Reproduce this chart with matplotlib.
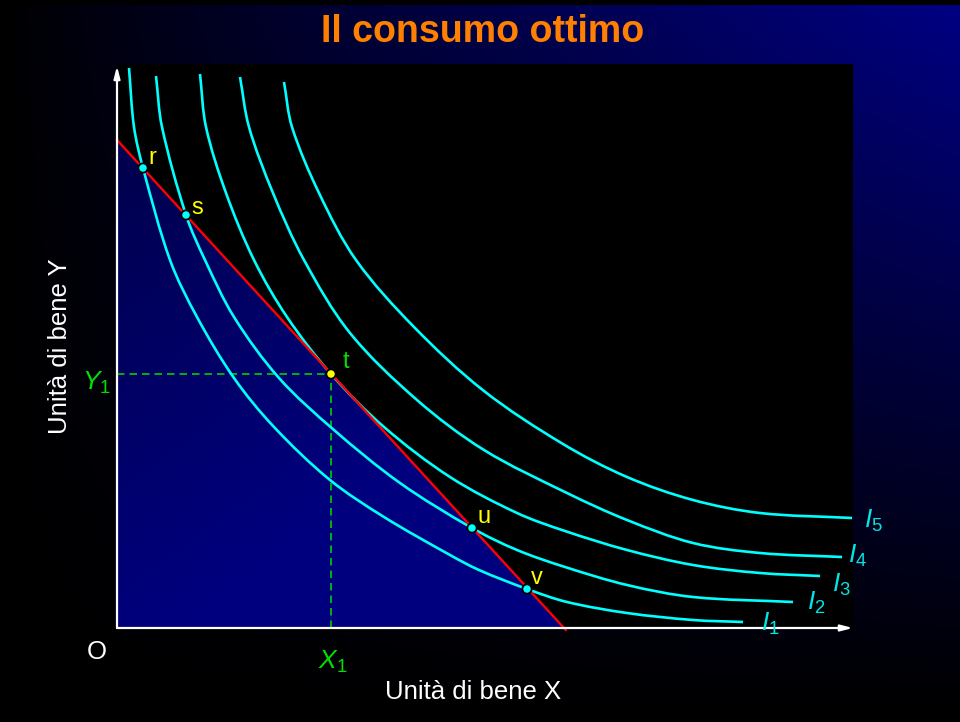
import numpy as np
import matplotlib
matplotlib.use("Agg")
import matplotlib.pyplot as plt
from matplotlib.patches import Polygon, PathPatch
from matplotlib.path import Path

plt.rcParams['font.family'] = ['Liberation Sans', 'DejaVu Sans']
plt.rcParams['mathtext.fontset'] = 'custom'
plt.rcParams['mathtext.rm'] = 'Liberation Sans'
plt.rcParams['mathtext.it'] = 'Liberation Sans:italic'

# ---------------- data (units) ----------------
I1_x = [12, 17, 26, 53, 80, 117, 157, 213, 267, 333, 362, 410, 450, 510, 576, 626]
I1_y = [560, 501, 460, 368, 311, 250, 201, 148, 111, 73, 58, 39, 26, 15, 8, 6]

I2_x = [39, 45, 69, 88, 117, 162, 217, 283, 355, 400, 448, 510, 576, 676]
I2_y = [552, 501, 413, 368, 311, 250, 198, 145, 100, 78, 61, 43, 31, 26]

I3_x = [83, 89, 109, 137, 170, 214, 267, 333, 400, 448, 510, 576, 643, 703]
I3_y = [554, 501, 435, 368, 311, 254, 201, 151, 115, 97, 78, 63, 55, 52]

I4_x = [123, 132, 156, 187, 233, 300, 367, 450, 510, 576, 643, 725]
I4_y = [551, 501, 435, 368, 295, 228, 178, 135, 108, 85, 75, 71]

I5_x = [167, 175, 202, 239, 297, 367, 446, 510, 576, 643, 735]
I5_y = [546, 501, 435, 368, 301, 237, 184, 151, 128, 115, 110]

curve_labels = ['$I_1$', '$I_2$', '$I_3$', '$I_4$', '$I_5$']

# budget line intercepts
budget_y_max = 488
budget_x_max = 447

point_names = ['r', 's', 't', 'u', 'v']
point_x = [26, 69, 214, 355, 410]
point_y = [460, 413, 254, 100, 39]
optimum_index = 2

x_axis_label = 'Unità di bene X'
y_axis_label = 'Unità di bene Y'
title = 'Il consumo ottimo'
origin_label = 'O'
X1_label = '$X_1$'
Y1_label = '$Y_1$'

# ---------------- figure ----------------
W, H = 960, 722
fig = plt.figure(figsize=(W / 100, H / 100), dpi=100)

# background gradient
bg = fig.add_axes([0, 0, 1, 1])
bg.set_axis_off()
xs = np.linspace(0, 1, W)[None, :]
ys = np.linspace(1, 0, H)[:, None]
img = np.zeros((H, W, 3))
img[..., 2] = 0.52 * (xs ** 0.9) * (ys ** 1.1)
img[:5, :, :] = 0
img[:, :4, :] = 0
bg.imshow(img, extent=[0, 1, 0, 1], aspect='auto', interpolation='bilinear')
bg.set_xlim(0, 1)
bg.set_ylim(0, 1)


def fx(px):
    return px / W


def fy(py):
    return 1 - py / H


ax = fig.add_axes([fx(117), fy(628), 736 / W, 564 / H])
ax.set_facecolor('black')
for s in ax.spines.values():
    s.set_visible(False)
ax.set_xticks([])
ax.set_yticks([])
ax.set_xlim(0, 736)
ax.set_ylim(0, 564)

# blue triangle under the budget line (gradient)
tri = Polygon([[0, 0], [0, budget_y_max], [budget_x_max, 0]], closed=True,
              facecolor='none', edgecolor='none', transform=ax.transData)
ax.add_patch(tri)
gx = np.linspace(0, 1, 200)[None, :]
gy = np.linspace(1, 0, 200)[:, None]
g = np.zeros((200, 200, 3))
g[..., 2] = 0.30 + 0.20 * np.clip(gx * 0.6 + (1 - gy) * 0.9, 0, 1)
im = ax.imshow(g, extent=[0, budget_x_max, 0, budget_y_max], aspect='auto',
               interpolation='bilinear', zorder=1)
im.set_clip_path(tri)
ax.set_xlim(0, 736)
ax.set_ylim(0, 564)

# dashed guide lines to the optimum
tx, ty = point_x[optimum_index], point_y[optimum_index]
ax.plot([0, tx], [ty, ty], ls=(0, (4.5, 3)), color='#00D000', lw=1.2, zorder=2)
ax.plot([tx, tx], [0, ty], ls=(0, (4.5, 3)), color='#00D000', lw=1.2, zorder=2)


def smooth_path(xv, yv):
    """Bezier path passing through the read points (drawn by matplotlib)."""
    P = np.column_stack([xv, yv]).astype(float)
    n = len(P)
    d = np.zeros_like(P)
    for i in range(n):
        a = P[max(i - 1, 0)]
        b = P[min(i + 1, n - 1)]
        v = b - a
        d[i] = v / np.hypot(*v)
    verts = [P[0]]
    codes = [Path.MOVETO]
    for i in range(n - 1):
        L = np.hypot(*(P[i + 1] - P[i])) / 3.0
        verts += [P[i] + d[i] * L, P[i + 1] - d[i + 1] * L, P[i + 1]]
        codes += [Path.CURVE4] * 3
    return Path(verts, codes)


# indifference curves
curves = [(I1_x, I1_y), (I2_x, I2_y), (I3_x, I3_y), (I4_x, I4_y), (I5_x, I5_y)]
for cx, cy in curves:
    patch = PathPatch(smooth_path(cx, cy), facecolor='none', edgecolor='#00FFFF',
                      lw=1.9, zorder=3, clip_on=False, capstyle='butt')
    ax.add_patch(patch)

# budget line
ax.plot([0, budget_x_max * 1.004], [budget_y_max, -budget_y_max * 0.004],
        color='#FF0000', lw=1.7, zorder=4, clip_on=False)

# axes with arrows
ax.annotate('', xy=(736, 0), xytext=(0, 0), xycoords='data',
            arrowprops=dict(arrowstyle='-|>,head_length=0.7,head_width=0.18',
                            color='white', lw=1.6, shrinkA=0, shrinkB=0),
            annotation_clip=False, zorder=5)
ax.annotate('', xy=(0, 562), xytext=(0, 0), xycoords='data',
            arrowprops=dict(arrowstyle='-|>,head_length=0.7,head_width=0.18',
                            color='white', lw=1.6, shrinkA=0, shrinkB=0),
            annotation_clip=False, zorder=5)

# points
colors = ['#00FFFF'] * len(point_x)
colors[optimum_index] = '#FFFF00'
ax.scatter(point_x, point_y, s=45, c=colors, edgecolors='black',
           linewidths=1.3, zorder=6, clip_on=False)

label_offsets = [(7, 7), (8, 5), (11, 9), (9, 8), (7, 8)]
for name, px_, py_, off in zip(point_names, point_x, point_y, label_offsets):
    col = '#00E000' if name == point_names[optimum_index] else '#FFFF00'
    ax.annotate(name, xy=(px_, py_), xytext=off, textcoords='offset points',
                ha='center', va='center', color=col, fontsize=17, zorder=7)

# texts
fig.text(fx(483), fy(32), title, color='#FF8000', fontsize=27,
         fontweight='bold', ha='center', va='center')
fig.text(fx(473), fy(692), x_axis_label, color='white', fontsize=18.5,
         ha='center', va='center')
fig.text(fx(60), fy(346), y_axis_label, color='white', fontsize=18.5,
         ha='center', va='center', rotation=90)
fig.text(fx(97), fy(652), origin_label, color='white', fontsize=18.5,
         ha='center', va='center')
fig.text(fx(333), fy(662), X1_label, color='#00E000', fontsize=19,
         ha='center', va='center')
fig.text(fx(96), fy(383), Y1_label, color='#00E000', fontsize=19,
         ha='center', va='center')

label_pos = [(770, 624), (816, 603), (841, 585), (858, 556), (873, 521)]
for lab, (lx, ly) in zip(curve_labels, label_pos):
    fig.text(fx(lx), fy(ly), lab, color='#00E5E5', fontsize=19,
             ha='center', va='center')

fig.savefig('out.png', dpi=100, facecolor='black')
